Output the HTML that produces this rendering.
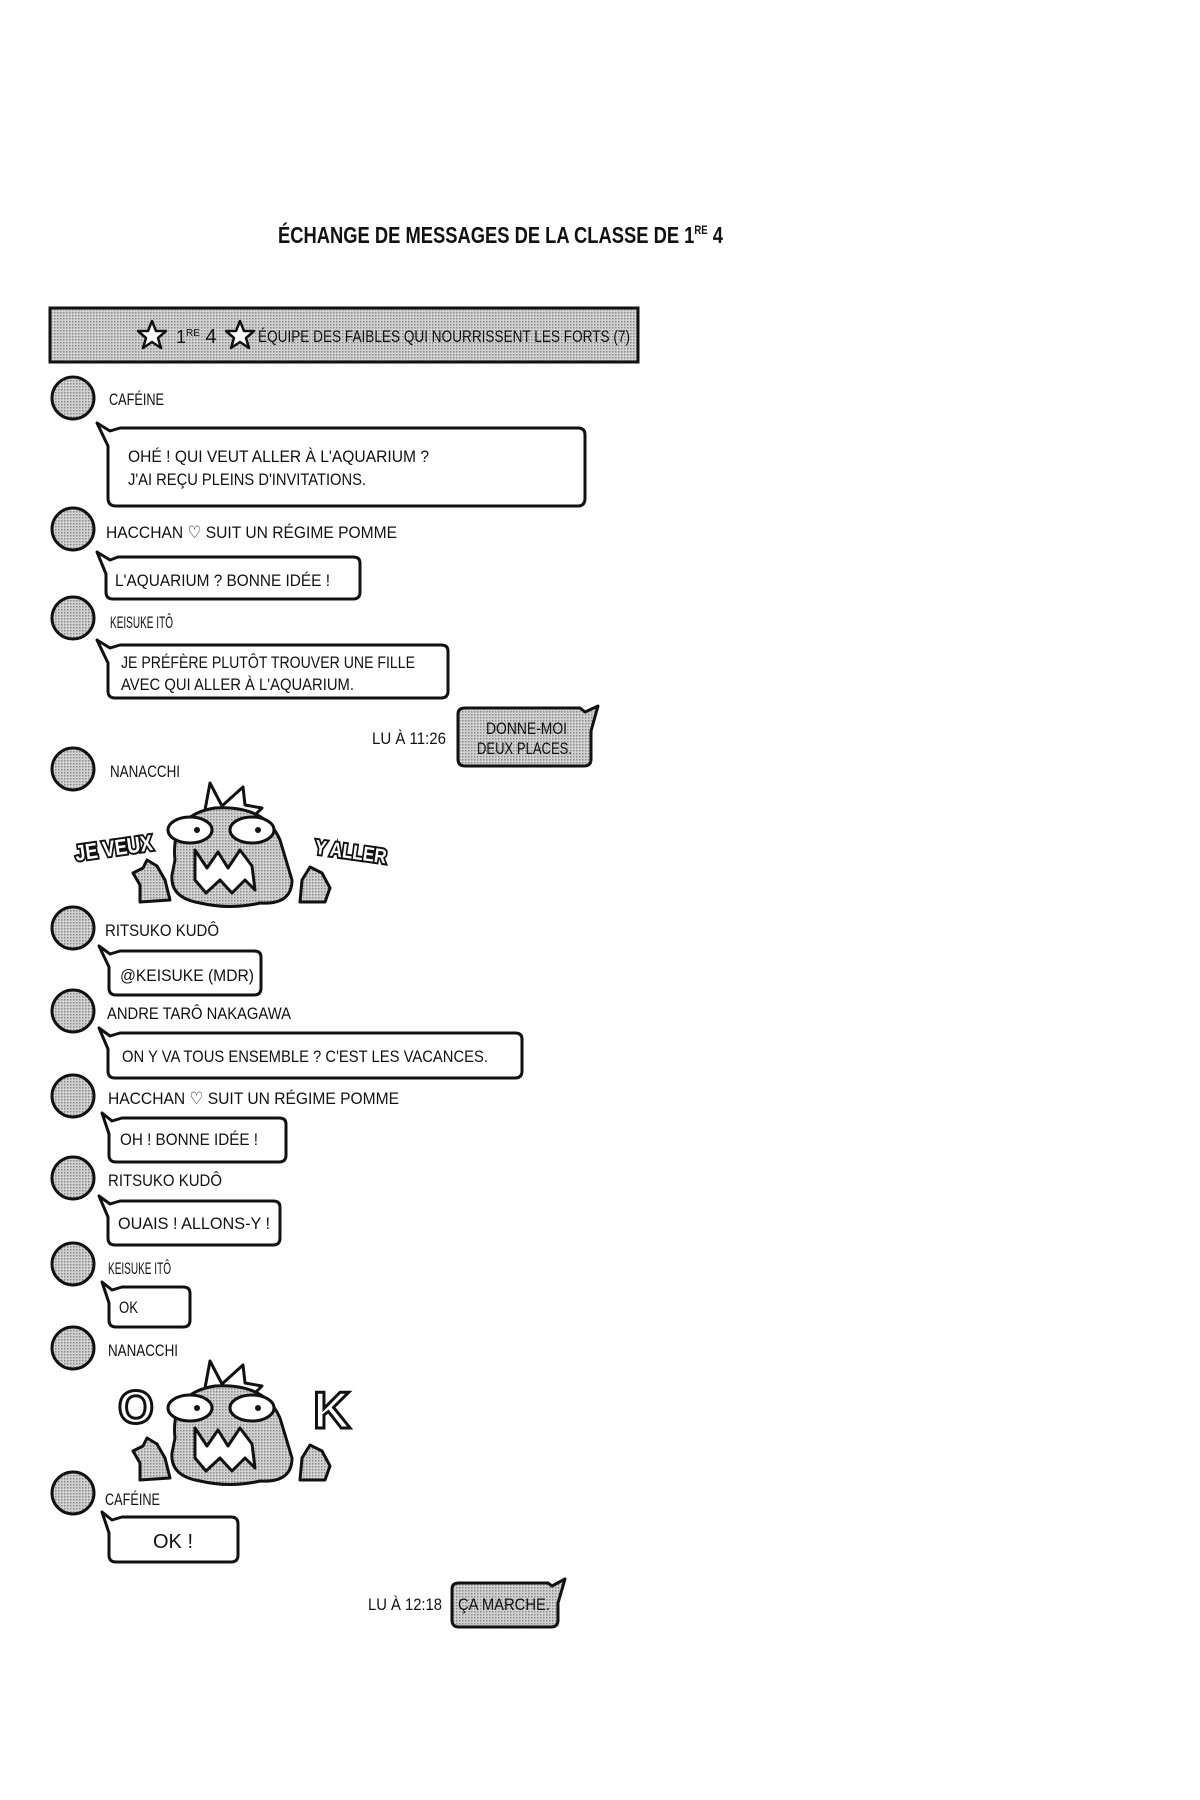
<!DOCTYPE html>
<html><head><meta charset="utf-8"><style>
html,body{margin:0;padding:0;background:#fff;}
svg{display:block}
text{font-family:"Liberation Sans Narrow","Liberation Sans",sans-serif;fill:#111;}
.n{font-size:17px}
.m{font-size:17px}
</style></head><body>
<svg width="1200" height="1800" viewBox="0 0 1200 1800" xmlns="http://www.w3.org/2000/svg">
<defs>
<pattern id="dots" width="3" height="3" patternUnits="userSpaceOnUse">
<rect width="3" height="3" fill="#d2d2d2"/><rect width="1.5" height="1.5" fill="#8a8a8a"/>
</pattern>
<g id="av"><circle r="21" fill="url(#dots)" stroke="#111" stroke-width="3"/></g>
<polygon id="star" points="0,-14 4,-4 14,-4 6,3 9,13 0,7 -9,13 -6,3 -14,-4 -4,-4" fill="#fff" stroke="#111" stroke-width="2.5" stroke-linejoin="round"/>
</defs>
<rect width="1200" height="1800" fill="#fff"/>

<text x="278" y="243" style="font-size:23px;font-weight:bold" textLength="445" lengthAdjust="spacingAndGlyphs">ÉCHANGE DE MESSAGES DE LA CLASSE DE 1<tspan font-size="12" dy="-9">RE</tspan><tspan dy="9"> 4</tspan></text>

<rect x="50" y="308" width="588" height="54" fill="url(#dots)" stroke="#111" stroke-width="3"/>
<use href="#star" x="152" y="335"/>
<text x="176" y="343" style="font-size:18px">1<tspan font-size="10" dy="-7">RE</tspan><tspan dy="7" font-size="20"> 4</tspan></text>
<use href="#star" x="240" y="335"/>
<text x="258" y="342" class="m" textLength="372" lengthAdjust="spacingAndGlyphs">ÉQUIPE DES FAIBLES QUI NOURRISSENT LES FORTS (7)</text>

<use href="#av" x="73" y="398"/>
<use href="#av" x="73" y="529"/>
<use href="#av" x="73" y="618"/>
<use href="#av" x="73" y="769"/>
<use href="#av" x="73" y="928"/>
<use href="#av" x="73" y="1011"/>
<use href="#av" x="73" y="1096"/>
<use href="#av" x="73" y="1178"/>
<use href="#av" x="73" y="1264"/>
<use href="#av" x="73" y="1348"/>
<use href="#av" x="73" y="1493"/>

<g lengthAdjust="spacingAndGlyphs">
<text x="109" y="405" class="n" textLength="55" lengthAdjust="spacingAndGlyphs">CAFÉINE</text>
<text x="106" y="538" class="n" textLength="291" lengthAdjust="spacingAndGlyphs">HACCHAN ♡ SUIT UN RÉGIME POMME</text>
<text x="110" y="628" class="n" textLength="63" lengthAdjust="spacingAndGlyphs">KEISUKE ITÔ</text>
<text x="110" y="777" class="n" textLength="70" lengthAdjust="spacingAndGlyphs">NANACCHI</text>
<text x="105" y="936" class="n" textLength="114" lengthAdjust="spacingAndGlyphs">RITSUKO KUDÔ</text>
<text x="107" y="1019" class="n" textLength="184" lengthAdjust="spacingAndGlyphs">ANDRE TARÔ NAKAGAWA</text>
<text x="108" y="1104" class="n" textLength="291" lengthAdjust="spacingAndGlyphs">HACCHAN ♡ SUIT UN RÉGIME POMME</text>
<text x="108" y="1186" class="n" textLength="114" lengthAdjust="spacingAndGlyphs">RITSUKO KUDÔ</text>
<text x="108" y="1274" class="n" textLength="63" lengthAdjust="spacingAndGlyphs">KEISUKE ITÔ</text>
<text x="108" y="1356" class="n" textLength="70" lengthAdjust="spacingAndGlyphs">NANACCHI</text>
<text x="105" y="1505" class="n" textLength="55" lengthAdjust="spacingAndGlyphs">CAFÉINE</text>
</g>

<g fill="#fff" stroke="#111" stroke-width="3" stroke-linejoin="round">
<path d="M110,431 L97,423 L108,446 L108,498 Q108,506 116,506 L578,506 Q585,506 585,498 L585,435 Q585,428 578,428 L120,428 Z"/>
<path d="M110,560 L97,552 L106,574 L106,592 Q106,599 113,599 L353,599 Q360,599 360,592 L360,563 Q360,557 353,557 L118,557 Z"/>
<path d="M110,648 L97,640 L108,663 L108,691 Q108,698 115,698 L441,698 Q448,698 448,691 L448,651 Q448,645 441,645 L120,645 Z"/>
<path d="M110,954 L99,946 L109,967 L109,988 Q109,995 116,995 L254,995 Q261,995 261,988 L261,957 Q261,951 254,951 L120,951 Z"/>
<path d="M110,1036 L99,1028 L108,1049 L108,1071 Q108,1078 115,1078 L515,1078 Q522,1078 522,1071 L522,1039 Q522,1033 515,1033 L120,1033 Z"/>
<path d="M112,1121 L102,1113 L109,1134 L109,1155 Q109,1162 116,1162 L279,1162 Q286,1162 286,1155 L286,1124 Q286,1118 279,1118 L122,1118 Z"/>
<path d="M110,1204 L99,1196 L108,1217 L108,1238 Q108,1245 115,1245 L273,1245 Q280,1245 280,1238 L280,1207 Q280,1201 273,1201 L120,1201 Z"/>
<path d="M112,1290 L102,1282 L109,1303 L109,1320 Q109,1327 116,1327 L183,1327 Q190,1327 190,1320 L190,1293 Q190,1287 183,1287 L122,1287 Z"/>
<path d="M112,1520 L102,1512 L109,1533 L109,1555 Q109,1562 116,1562 L231,1562 Q238,1562 238,1555 L238,1524 Q238,1517 231,1517 L122,1517 Z"/>
</g>
<g fill="url(#dots)" stroke="#111" stroke-width="3" stroke-linejoin="round">
<path d="M585,712 L598,706 L591,731 L591,759 Q591,766 584,766 L465,766 Q458,766 458,759 L458,714 Q458,708 465,708 L580,708 Z"/>
<path d="M552,1586 L565,1579 L558,1603 L558,1620 Q558,1627 551,1627 L459,1627 Q452,1627 452,1620 L452,1589 Q452,1583 459,1583 L548,1583 Z"/>
</g>

<text x="128" y="462" class="m" textLength="301" lengthAdjust="spacingAndGlyphs">OHÉ ! QUI VEUT ALLER À L'AQUARIUM ?</text>
<text x="128" y="485" class="m" textLength="238" lengthAdjust="spacingAndGlyphs">J'AI REÇU PLEINS D'INVITATIONS.</text>
<text x="115" y="586" class="m" textLength="215" lengthAdjust="spacingAndGlyphs">L'AQUARIUM ? BONNE IDÉE !</text>
<text x="121" y="668" class="m" textLength="294" lengthAdjust="spacingAndGlyphs">JE PRÉFÈRE PLUTÔT TROUVER UNE FILLE</text>
<text x="121" y="690" class="m" textLength="233" lengthAdjust="spacingAndGlyphs">AVEC QUI ALLER À L'AQUARIUM.</text>
<text x="486" y="734" class="m" textLength="81" lengthAdjust="spacingAndGlyphs">DONNE-MOI</text>
<text x="477" y="754" class="m" textLength="95" lengthAdjust="spacingAndGlyphs">DEUX PLACES.</text>
<text x="372" y="744" class="m" textLength="74" lengthAdjust="spacingAndGlyphs">LU À 11:26</text>
<text x="120" y="981" class="m" textLength="134" lengthAdjust="spacingAndGlyphs">@KEISUKE (MDR)</text>
<text x="122" y="1062" class="m" textLength="366" lengthAdjust="spacingAndGlyphs">ON Y VA TOUS ENSEMBLE ? C'EST LES VACANCES.</text>
<text x="120" y="1145" class="m" textLength="138" lengthAdjust="spacingAndGlyphs">OH ! BONNE IDÉE !</text>
<text x="118" y="1229" class="m" textLength="152" lengthAdjust="spacingAndGlyphs">OUAIS ! ALLONS-Y !</text>
<text x="119" y="1313" class="m" textLength="19" lengthAdjust="spacingAndGlyphs">OK</text>
<text x="153" y="1548" class="m" style="font-size:20px" textLength="40" lengthAdjust="spacingAndGlyphs">OK !</text>
<text x="368" y="1610" class="m" textLength="74" lengthAdjust="spacingAndGlyphs">LU À 12:18</text>
<text x="458" y="1610" class="m" textLength="92" lengthAdjust="spacingAndGlyphs">ÇA MARCHE.</text>

<g>
<g id="mon" stroke="#111" stroke-width="3" stroke-linejoin="round">
<path d="M205,810 L210,783 L222,806 L243,787 L245,805 L262,808 L250,820 Z" fill="#fff"/>
<path d="M175,860 Q170,815 215,808 Q265,805 280,840 L292,880 Q292,905 260,903 Q230,910 200,903 Q170,898 172,875 Z" fill="url(#dots)"/>
<path d="M140,885 L133,873 L143,868 L147,860 L157,866 L165,880 L170,900 L140,902 Z" fill="url(#dots)"/>
<path d="M300,902 L302,880 L310,867 L322,873 L330,888 L325,902 Z" fill="url(#dots)"/>
<ellipse cx="190" cy="830" rx="22" ry="13" fill="#fff"/>
<ellipse cx="252" cy="830" rx="22" ry="13" fill="#fff"/>
<circle cx="197" cy="830" r="3" fill="#111" stroke="none"/>
<circle cx="258" cy="830" r="3" fill="#111" stroke="none"/>
<path d="M195,850 L207,868 L218,852 L228,868 L240,850 L252,866 L255,890 L245,880 L232,893 L220,880 L206,893 L195,880 Z" fill="#fff"/>
</g>
<text x="75" y="856" style="font-size:22px;font-weight:bold;fill:#fff;stroke:#111;stroke-width:4;paint-order:stroke" transform="rotate(-8 110 850)" textLength="78" lengthAdjust="spacingAndGlyphs">JE VEUX</text>
<text x="315" y="857" style="font-size:20px;font-weight:bold;fill:#fff;stroke:#111;stroke-width:4;paint-order:stroke" transform="rotate(8 340 850)" textLength="72" lengthAdjust="spacingAndGlyphs">Y ALLER</text>
</g>

<use href="#mon" transform="translate(0,578)"/>
<text x="118" y="1423" style="font-size:46px;font-weight:bold;fill:#fff;stroke:#111;stroke-width:3">O</text>
<text x="313" y="1428" style="font-size:52px;font-weight:bold;fill:#fff;stroke:#111;stroke-width:3">K</text>
</svg>
</body></html>
